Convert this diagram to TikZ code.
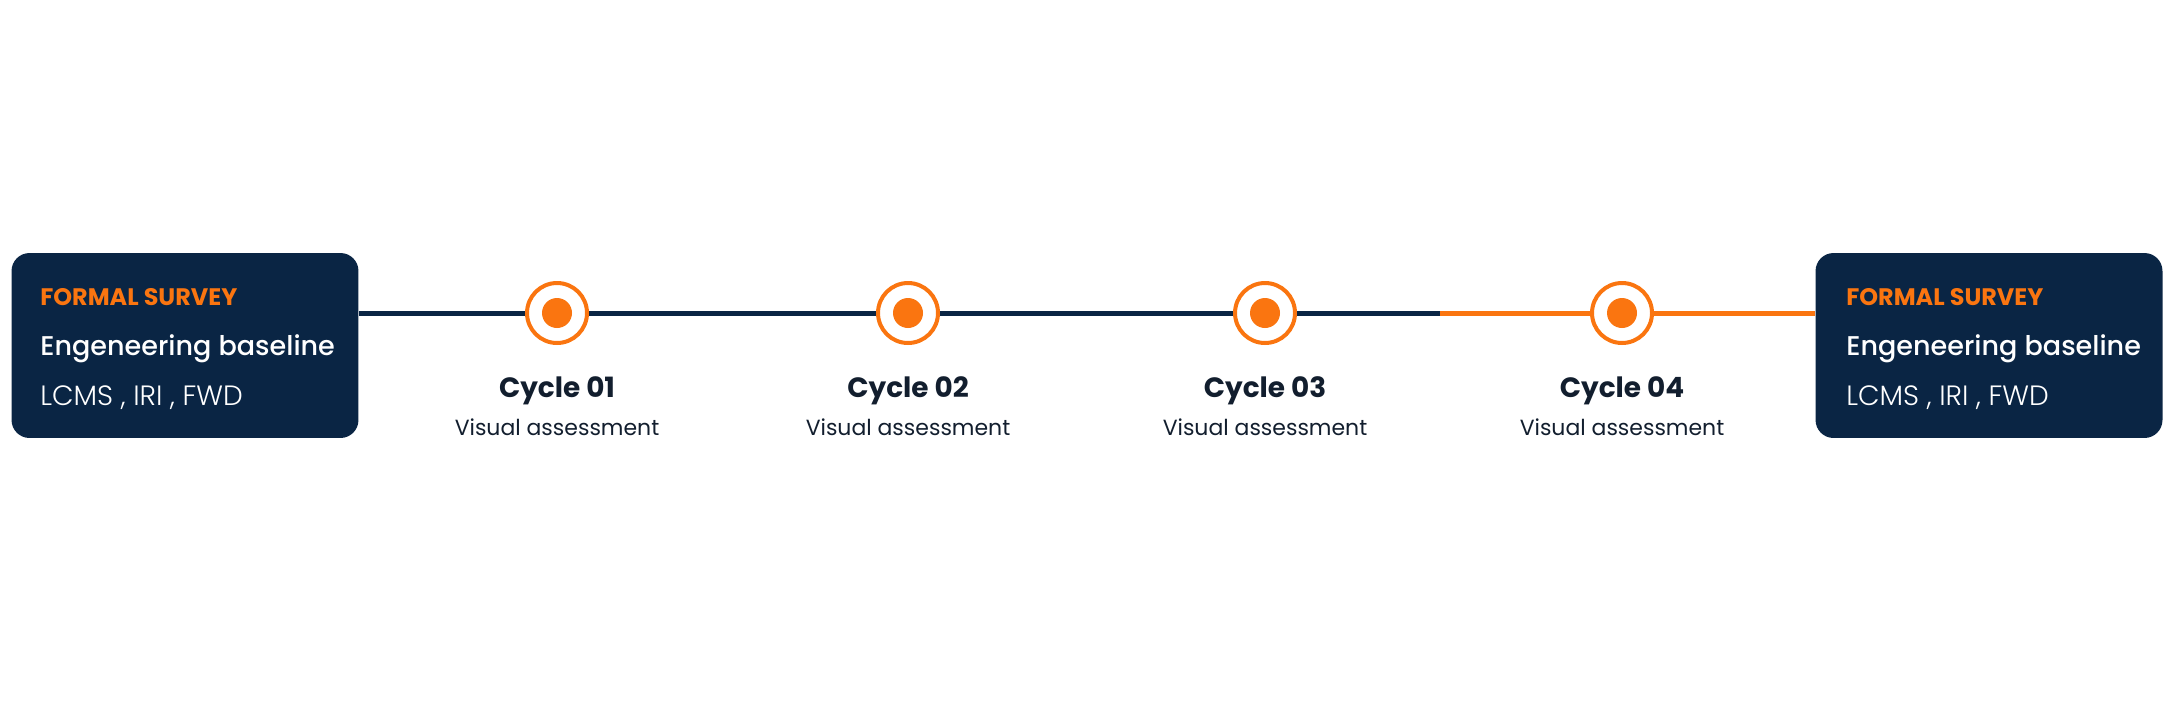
\documentclass[tikz,border=0pt]{standalone}
\usepackage{fontspec}
\setmainfont{Poppins}
\newfontfamily\popmed{Poppins Medium}
\newfontfamily\poplight{Poppins Light}
\usetikzlibrary{positioning, calc}
\definecolor{surveynavy}{RGB}{10, 37, 68}
\definecolor{cycleorange}{RGB}{250, 117, 16}
\definecolor{labelink}{RGB}{18, 30, 46}

\begin{document}
\begin{tikzpicture}[x=0.02cm, y=-0.02cm,
    survbox/.style={fill=surveynavy, rounded corners=0.36cm, minimum width=6.94cm, minimum height=3.7cm, inner sep=0pt},
    tagtxt/.style={font=\bfseries\fontsize{13.6}{16}\selectfont, text=cycleorange, anchor=base west, inner sep=0pt},
    headtxt/.style={font=\popmed\fontsize{15.4}{19}\selectfont, text=white, anchor=base west, inner sep=0pt},
    kittxt/.style={font=\poplight\fontsize{15.9}{18}\selectfont, text=white, anchor=base west, inner sep=0pt},
    ring/.style={circle, draw=cycleorange, line width=0.08cm, fill=white, minimum size=1.2cm, inner sep=0pt},
    dot/.style={circle, fill=cycleorange, minimum size=0.6cm, inner sep=0pt},
    cyclab/.style={font=\bfseries\fontsize{15.9}{19}\selectfont, text=labelink, anchor=base, inner sep=0pt},
    cycsub/.style={font=\fontsize{12.5}{15}\selectfont, text=labelink, anchor=base, inner sep=0pt},
    navyline/.style={line width=0.1cm, surveynavy},
    orangeline/.style={line width=0.1cm, cycleorange}]
\useasboundingbox (0,0) rectangle (2172,724);
% Survey boxes at both ends
\node[survbox] (survL) at (185,345.5) {};
\node[tagtxt] (tagL) at (40,305) {FORMAL SURVEY};
\node[headtxt] (headL) at (40,355) {Engeneering baseline};
\node[kittxt] (kitL) at (40,405) {LCMS , IRI , FWD};
\node[survbox] (survR) at (1989,345.5) {};
\node[tagtxt] (tagR) at (1846,305) {FORMAL SURVEY};
\node[headtxt] (headR) at (1846,355) {Engeneering baseline};
\node[kittxt] (kitR) at (1846,405) {LCMS , IRI , FWD};
% Cycle markers
\node[ring] (c1) at (557,313) {};
\node[dot] (d1) at (c1) {};
\node[ring] (c2) at (908,313) {};
\node[dot] (d2) at (c2) {};
\node[ring] (c3) at (1265,313) {};
\node[dot] (d3) at (c3) {};
\node[ring] (c4) at (1622,313) {};
\node[dot] (d4) at (c4) {};
% Cycle labels
\node[cyclab] (l1) at (557,397) {Cycle 01};
\node[cycsub] (s1) at (557,435) {Visual assessment};
\node[cyclab] (l2) at (908,397) {Cycle 02};
\node[cycsub] (s2) at (908,435) {Visual assessment};
\node[cyclab] (l3) at (1265,397) {Cycle 03};
\node[cycsub] (s3) at (1265,435) {Visual assessment};
\node[cyclab] (l4) at (1622,397) {Cycle 04};
\node[cycsub] (s4) at (1622,435) {Visual assessment};
% Timeline: navy part, then orange part
\coordinate (split) at (1440,313);
\draw[navyline] (c1.west -| survL.east) -- (c1.west);
\draw[navyline] (c1.east) -- (c2.west);
\draw[navyline] (c2.east) -- (c3.west);
\draw[navyline] (c3.east) -- (split);
\draw[orangeline] (split) -- (c4.west);
\draw[orangeline] (c4.east) -- (c4.east -| survR.west);
\end{tikzpicture}
\end{document}
